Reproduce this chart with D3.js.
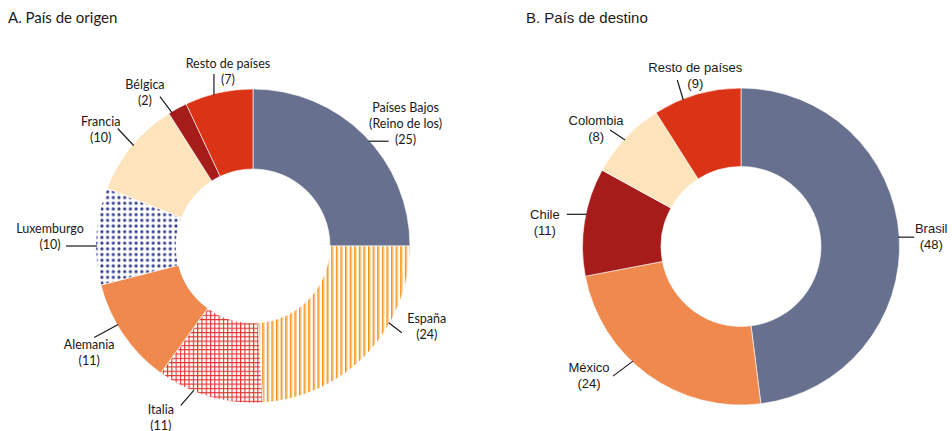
<!DOCTYPE html>
<html>
<head>
<meta charset="utf-8">
<script src="https://cdn.jsdelivr.net/npm/d3@7"></script>
<style>
  body { margin: 0; background: #fff; }
  svg { display: block; }
</style>
</head>
<body>
<svg id="chart" width="952" height="431"></svg>
<script>
// panel A: country of origin
var origenPaises = ["Países Bajos", "España", "Italia", "Alemania", "Luxemburgo", "Francia", "Bélgica", "Resto de países"];
var origenValores = [25, 24, 11, 11, 10, 10, 2, 7];
var origenRellenos = ["#67708f", "url(#rayas)", "url(#rejilla)", "#f0894e", "url(#puntos)", "#fde4bc", "#a51c1a", "#da3315"];

// panel B: country of destination
var destinoPaises = ["Brasil", "México", "Chile", "Colombia", "Resto de países"];
var destinoValores = [48, 24, 11, 8, 9];
var destinoRellenos = ["#67708f", "#f0894e", "#a51c1a", "#fde4bc", "#da3315"];

var svg = d3.select("#chart");

// patterns
var defs = svg.append("defs");
var rayas = defs.append("pattern").attr("id", "rayas")
  .attr("patternUnits", "userSpaceOnUse").attr("width", 4.6).attr("height", 10);
rayas.append("rect").attr("width", 4.6).attr("height", 10).attr("fill", "#fff");
rayas.append("rect").attr("x", 0).attr("width", 1.5).attr("height", 10).attr("fill", "#f29111");
rayas.append("rect").attr("x", 1.5).attr("width", 0.9).attr("height", 10).attr("fill", "#f7bd70");

var rejilla = defs.append("pattern").attr("id", "rejilla")
  .attr("patternUnits", "userSpaceOnUse").attr("width", 4.3).attr("height", 4.3);
rejilla.append("rect").attr("width", 4.3).attr("height", 4.3).attr("fill", "#fff");
rejilla.append("rect").attr("width", 1.1).attr("height", 4.3).attr("fill", "#e3302b");
rejilla.append("rect").attr("width", 4.3).attr("height", 1.1).attr("fill", "#e3302b");

var puntos = defs.append("pattern").attr("id", "puntos")
  .attr("patternUnits", "userSpaceOnUse").attr("width", 5.7).attr("height", 5.7);
puntos.append("rect").attr("width", 5.7).attr("height", 5.7).attr("fill", "#fff");
puntos.append("circle").attr("cx", 2.8).attr("cy", 2.8).attr("r", 1.6).attr("fill", "#363f92");

// leader annotations: angle on the outer ring, leader vector, text offset from the leader end
var origenNotas = [
  {lineas: ["Países Bajos", "(Reino de los)", "(25)"], ang: 47.8, v: [20, 0], t: [17, -29]},
  {lineas: ["España", "(24)"], ang: 119.5, v: [13, 10], t: [25, -10]},
  {lineas: ["Italia", "(11)"], ang: 202.3, v: [-13, 15], t: [-20, 9]},
  {lineas: ["Alemania", "(11)"], ang: 239.8, v: [-24, 13], t: [-5, 12]},
  {lineas: ["Luxemburgo", "(10)"], ang: 270, v: [-31, 0], t: [-16, -13]},
  {lineas: ["Francia", "(10)"], ang: 310.1, v: [-16, -17], t: [-17, -2.5]},
  {lineas: ["Bélgica", "(2)"], ang: 328.7, v: [-12, -16], t: [-15, -8]},
  {lineas: ["Resto de países", "(7)"], ang: 345.5, v: [0, -21], t: [14, -6]}
];
var destinoNotas = [
  {lineas: ["Brasil", "(48)"], ang: 86.6, v: [16, 0], t: [17, -4]},
  {lineas: ["México", "(24)"], ang: 223.3, v: [-20, 15], t: [-24, -4]},
  {lineas: ["Chile", "(11)"], ang: 281.8, v: [-20, 0], t: [-22, 5]},
  {lineas: ["Colombia", "(8)"], ang: 312.6, v: [-15, -10], t: [-14, -5]},
  {lineas: ["Resto de países", "(9)"], ang: 338.5, v: [-6, -20], t: [18, -8]}
];

function dona(opts) {
  var g = svg.append("g")
    .attr("transform", "translate(" + opts.cx + "," + opts.cy + ")");

  var pie = d3.pie().sort(null).value(function(d) { return d; });
  var arc = d3.arc().innerRadius(opts.r0).outerRadius(opts.r1);

  g.selectAll("path.slice")
    .data(pie(opts.valores))
    .enter().append("path")
    .attr("class", "slice")
    .attr("d", arc)
    .attr("fill", function(d, i) { return opts.rellenos[i]; })
    .attr("stroke", "#fff")
    .attr("stroke-width", 0.6);

  var notas = g.selectAll("g.nota")
    .data(opts.notas)
    .enter().append("g")
    .attr("class", "nota");

  notas.each(function(d) {
    var a = d.ang * Math.PI / 180;
    var x0 = Math.sin(a) * (opts.r1 - 1),
        y0 = -Math.cos(a) * (opts.r1 - 1);
    var x1 = x0 + d.v[0], y1 = y0 + d.v[1];
    var sel = d3.select(this);
    sel.append("line")
      .attr("x1", x0).attr("y1", y0)
      .attr("x2", x1).attr("y2", y1)
      .attr("stroke", "#1a1a1a")
      .attr("stroke-width", 1.2);
    var txt = sel.append("text")
      .attr("text-anchor", "middle")
      .attr("font-family", opts.fuente)
      .attr("font-size", opts.tam)
      .attr("fill", "#1a1a1a");
    d.lineas.forEach(function(l, i) {
      txt.append("tspan")
        .attr("x", x1 + d.t[0])
        .attr("y", y1 + d.t[1] + i * opts.interlinea)
        .text(l);
    });
  });

  svg.append("text")
    .attr("x", opts.tx).attr("y", opts.ty)
    .attr("font-family", opts.fuenteTitulo)
    .attr("font-size", 15)
    .attr("fill", "#1a1a1a")
    .text(opts.titulo);
}

dona({
  cx: 253, cy: 246, r0: 77, r1: 157,
  valores: origenValores, rellenos: origenRellenos, notas: origenNotas,
  fuente: "Lato", tam: 12.5, interlinea: 16,
  titulo: "A. País de origen", tx: 8, ty: 23, fuenteTitulo: "Lato"
});

dona({
  cx: 741, cy: 246.5, r0: 80, r1: 158.5,
  valores: destinoValores, rellenos: destinoRellenos, notas: destinoNotas,
  fuente: "Liberation Sans", tam: 13, interlinea: 16,
  titulo: "B. País de destino", tx: 526, ty: 23, fuenteTitulo: "Liberation Sans"
});
</script>
</body>
</html>
